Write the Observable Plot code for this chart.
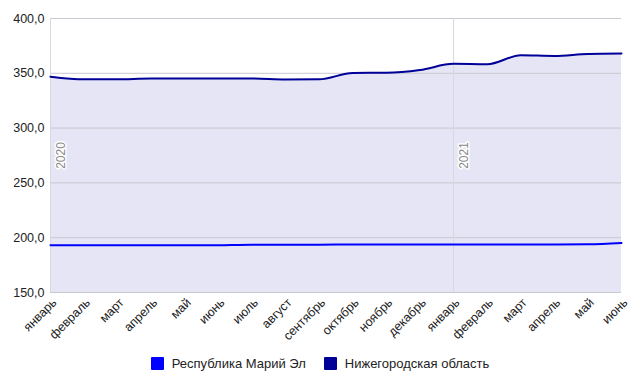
<!DOCTYPE html>
<html>
<head>
<meta charset="utf-8">
<script src="https://cdn.jsdelivr.net/npm/d3@7"></script>
<script src="https://cdn.jsdelivr.net/npm/@observablehq/plot@0.6"></script>
<style>
  html, body { margin: 0; padding: 0; background: #fff; }
  body { width: 640px; height: 384px; font-family: "Liberation Sans", Arial, sans-serif; }
  #legend { display: flex; justify-content: center; gap: 18px; font-size: 13px; color: #222; margin-top: 11px; }
  #legend span.item { display: flex; align-items: center; }
  #legend i { display: inline-block; width: 13px; height: 13px; margin-right: 8px; border-radius: 1px; }
</style>
</head>
<body>
<div id="chart"></div>
<div id="legend"></div>
<script>
const months = ["январь","февраль","март","апрель","май","июнь","июль","август","сентябрь","октябрь","ноябрь","декабрь","январь","февраль","март","апрель","май","июнь"];
const seriesNames = ["Республика Марий Эл", "Нижегородская область"];
const seriesColors = ["#0000ff", "#000099"];
const mariEl = [193.0,193.0,193.0,193.0,193.0,193.2,193.6,193.6,193.6,193.8,193.8,193.8,193.8,193.8,193.8,193.8,194.0,195.2];
const nizhny = [346.9,344.5,344.6,345.2,345.2,345.3,345.3,344.4,344.5,350.3,350.5,353.0,358.6,358.2,366.5,365.8,367.6,368.0];
const yearLabels = [{i: 0, label: "2020"}, {i: 12, label: "2021"}];
const yTicks = [150, 200, 250, 300, 350, 400];

const idx = months.map((_, i) => i);
const fmt = v => v.toFixed(1).replace(".", ",");

const plot = Plot.plot({
  width: 640,
  height: 345,
  marginLeft: 50,
  marginRight: 19,
  marginTop: 18,
  marginBottom: 53,
  style: { fontFamily: "Liberation Sans, Arial, sans-serif", fontSize: "12px", color: "#222", background: "#fff" },
  x: { type: "linear", domain: [0, months.length - 1] },
  y: { domain: [150, 400] },
  marks: [
    Plot.areaY(idx, { x: i => i, y1: 150, y2: i => nizhny[i], fill: "#e5e5f5", curve: "monotone-x" }),
    Plot.ruleY(yTicks, { stroke: "#c8c8d0", strokeWidth: 1 }),
    Plot.ruleX(yearLabels, { x: "i", stroke: "#d8d8e4", strokeWidth: 1 }),
    Plot.text(yearLabels, { x: "i", y: 275, text: "label", rotate: -90, dx: 11, fill: "#888", stroke: "white", strokeWidth: 3, fontSize: 12 }),
    Plot.lineY(idx, { x: i => i, y: i => mariEl[i], stroke: seriesColors[0], strokeWidth: 2, curve: "monotone-x" }),
    Plot.lineY(idx, { x: i => i, y: i => nizhny[i], stroke: seriesColors[1], strokeWidth: 2, curve: "monotone-x" }),
    Plot.axisY({ ticks: yTicks, tickFormat: fmt, tickSize: 0, tickPadding: 6, label: null, fontSize: 12.5 }),
    Plot.axisX({ ticks: idx, tickFormat: i => months[i], tickRotate: -45, tickSize: 0, tickPadding: 4, dx: 4, dy: 4, label: null, fontSize: 12.5 })
  ]
});
document.getElementById("chart").appendChild(plot);

const legend = document.getElementById("legend");
seriesNames.forEach((n, k) => {
  const s = document.createElement("span");
  s.className = "item";
  s.innerHTML = `<i style="background:${seriesColors[k]}"></i>${n}`;
  legend.appendChild(s);
});
</script>
</body>
</html>
